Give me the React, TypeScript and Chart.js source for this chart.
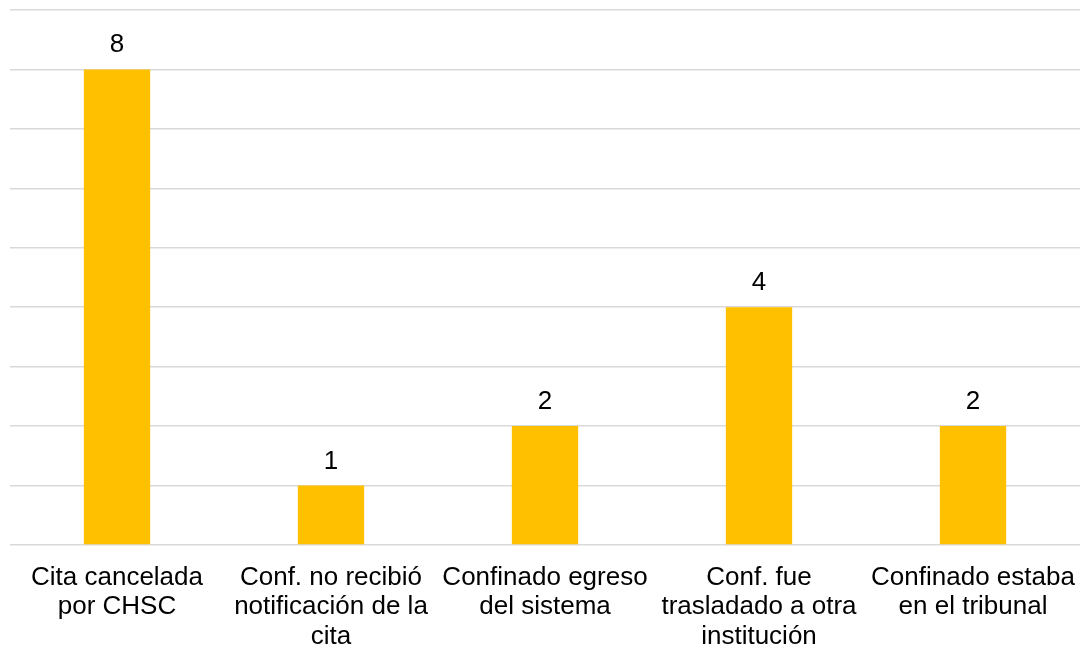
import React, { useEffect, useRef } from "react";
import { Chart, registerables } from "chart.js";

Chart.register(...registerables);

const categories: string[][] = [
  ["Cita cancelada", "por CHSC"],
  ["Conf. no recibió", "notificación de la", "cita"],
  ["Confinado egreso", "del sistema"],
  ["Conf. fue", "trasladado a otra", "institución"],
  ["Confinado estaba", "en el tribunal"],
];
const values: number[] = [8, 1, 2, 4, 2];
const yMax = 9;

const FONT = "'Liberation Sans', Arial, sans-serif";

const valueLabels = {
  id: "valueLabels",
  afterDatasetsDraw(chart: any) {
    const ctx = chart.ctx;
    const meta = chart.getDatasetMeta(0);
    ctx.save();
    ctx.font = `26px ${FONT}`;
    ctx.fillStyle = "#000000";
    ctx.textAlign = "center";
    ctx.textBaseline = "alphabetic";
    meta.data.forEach((bar: any, i: number) => {
      ctx.fillText(String(values[i]), bar.x, bar.y - 17);
    });
    ctx.restore();
  },
};

export default function App() {
  const ref = useRef<HTMLCanvasElement>(null);
  useEffect(() => {
    document.body.style.margin = "0";
    const chart = new Chart(ref.current!, {
      type: "bar",
      data: {
        labels: categories,
        datasets: [
          {
            data: values,
            backgroundColor: "#FFC000",
            borderWidth: 0,
            barPercentage: 0.31,
            categoryPercentage: 1,
          },
        ],
      },
      options: {
        animation: false,
        responsive: false,
        maintainAspectRatio: false,
        layout: { padding: { top: 10, left: 10, right: 4, bottom: 0 } },
        plugins: { legend: { display: false }, tooltip: { enabled: false } },
        scales: {
          x: {
            grid: { display: false, drawTicks: false },
            border: { display: false },
            afterFit: (scale: any) => {
              scale.height = 107;
              scale.paddingLeft = 0;
              scale.paddingRight = 0;
            },
            ticks: {
              color: "#000000",
              font: { family: FONT, size: 26, lineHeight: 1.13 },
              padding: 18,
              maxRotation: 0,
              minRotation: 0,
              autoSkip: false,
            },
          },
          y: {
            min: 0,
            max: yMax,
            ticks: { display: false, stepSize: 1 },
            grid: { color: "#d9d9d9", lineWidth: 1.5, drawTicks: false },
            border: { display: false },
          },
        },
      },
      plugins: [valueLabels],
    });
    return () => chart.destroy();
  }, []);
  return (
    <div style={{ width: 1084, height: 652, background: "#fff" }}>
      <canvas ref={ref} width={1084} height={652} />
    </div>
  );
}
